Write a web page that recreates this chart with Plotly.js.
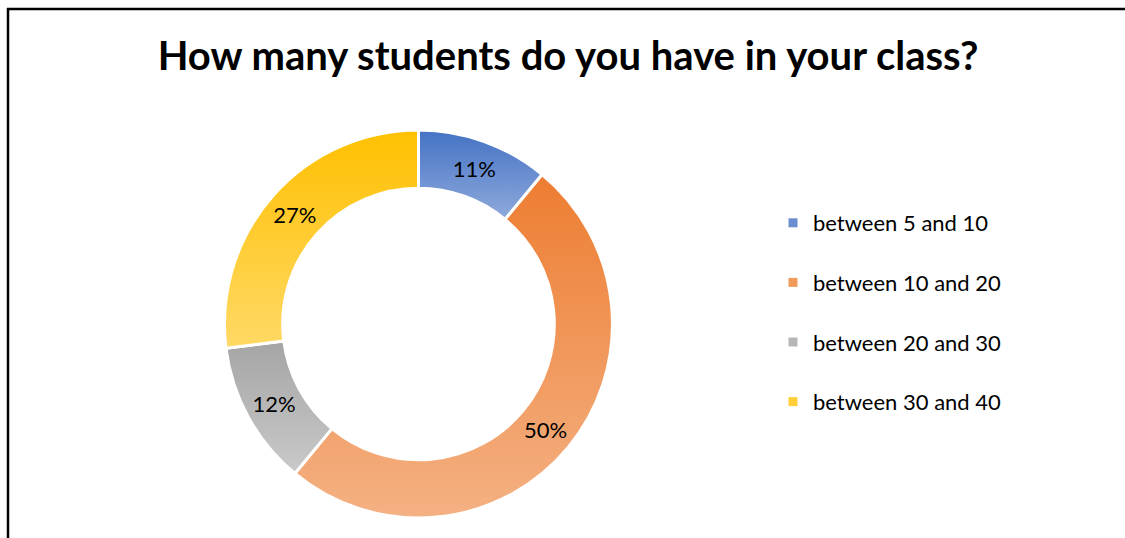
<!DOCTYPE html>
<html>
<head>
<meta charset="utf-8">
<script src="https://cdn.plot.ly/plotly-3.0.1.min.js"></script>
<style>
  html, body { margin: 0; padding: 0; background: #fff; overflow: hidden; }
  #chart { width: 1125px; height: 538px; }
</style>
</head>
<body>
<div id="chart"></div>
<script>
const categories = ["between 5 and 10", "between 10 and 20", "between 20 and 30", "between 30 and 40"];
const shares = [11, 50, 12, 27];
const chartTitle = "How many students do you have in your class?";

const topColors = ["#4472C4", "#ED7D31", "#A5A5A5", "#FFC000"];
const bottomColors = ["#8FAADC", "#F4B183", "#C9C9C9", "#FFD966"];
const midColors = ["#6A8ED0", "#F19A5C", "#B7B7B7", "#FFCF3A"];

const FONT = "Lato, 'Noto Sans', sans-serif";

const pie = {
  type: "pie",
  labels: categories,
  values: shares,
  sort: false,
  direction: "clockwise",
  rotation: 0,
  hole: 0.70,
  textinfo: "percent",
  textposition: "inside",
  insidetextorientation: "horizontal",
  textfont: { family: FONT, size: 22, color: "#000" },
  marker: { colors: midColors, line: { color: "#fff", width: 3 } },
  domain: { x: [224.5/1125, 612.5/1125], y: [1 - 518/538, 1 - 130/538] },
  showlegend: false,
  hoverinfo: "label+percent"
};

const legendTraces = categories.map((c, i) => ({
  type: "scatter",
  mode: "markers",
  x: [null], y: [null],
  name: c,
  legendgroup: "g" + i,
  showlegend: true,
  marker: { symbol: "square", size: 9, color: midColors[i] },
  hoverinfo: "skip"
}));

const layout = {
  width: 1125, height: 538,
  margin: { l: 0, r: 0, t: 0, b: 0 },
  paper_bgcolor: "#fff", plot_bgcolor: "#fff",
  title: {
    text: "<b>" + chartTitle + "</b>",
    font: { family: FONT, size: 40, color: "#000" },
    x: 568/1125, xanchor: "center",
    y: 1 - 56/538, yanchor: "middle", yref: "container"
  },
  xaxis: { visible: false },
  yaxis: { visible: false },
  showlegend: true,
  legend: {
    x: 773/1125, xanchor: "left",
    y: 1 - 202/538, yanchor: "top",
    font: { family: FONT, size: 22, color: "#000" },
    tracegroupgap: 28,
    bgcolor: "rgba(0,0,0,0)"
  },
  shapes: [
    { type: "line", xref: "paper", yref: "paper", x0: 8/1125, x1: 8/1125, y0: 1 - 8/538, y1: -0.05,
      line: { color: "#000", width: 2.5 } },
    { type: "line", xref: "paper", yref: "paper", x0: 7/1125, x1: 1.05, y0: 1 - 9/538, y1: 1 - 9/538,
      line: { color: "#000", width: 2.5 } }
  ]
};

Plotly.newPlot("chart", [pie].concat(legendTraces), layout, { displayModeBar: false, staticPlot: true }).then(gd => {
  const svg = gd.querySelector("svg.main-svg");
  const ns = "http://www.w3.org/2000/svg";
  let defs = svg.querySelector("defs");
  if (!defs) { defs = document.createElementNS(ns, "defs"); svg.insertBefore(defs, svg.firstChild); }
  topColors.forEach((tc, i) => {
    const g = document.createElementNS(ns, "linearGradient");
    g.setAttribute("id", "sliceGrad" + i);
    g.setAttribute("x1", "0"); g.setAttribute("y1", "0");
    g.setAttribute("x2", "0"); g.setAttribute("y2", "1");
    const s1 = document.createElementNS(ns, "stop");
    s1.setAttribute("offset", "0"); s1.setAttribute("stop-color", tc);
    const s2 = document.createElementNS(ns, "stop");
    s2.setAttribute("offset", "1"); s2.setAttribute("stop-color", bottomColors[i]);
    g.appendChild(s1); g.appendChild(s2);
    defs.appendChild(g);
  });
  gd.querySelectorAll("g.slice").forEach((sl, i) => {
    const p = sl.querySelector("path.surface");
    if (p) p.style.fill = "url(#sliceGrad" + i + ")";
  });
});
</script>
</body>
</html>
